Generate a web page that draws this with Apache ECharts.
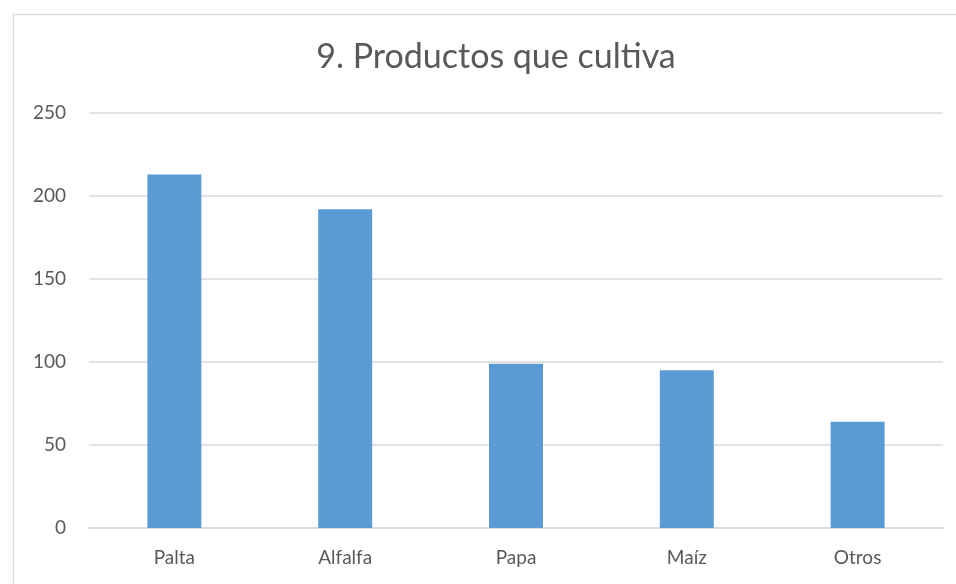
<!DOCTYPE html>
<html>
<head>
<meta charset="utf-8">
<script src="https://cdn.jsdelivr.net/npm/echarts@6/dist/echarts.min.js"></script>
<style>
html,body{margin:0;padding:0;background:#fff;}
#chart{width:956px;height:584px;}
</style>
</head>
<body>
<div id="chart"></div>
<script>
// ========== 数据 ==========
const categories = ['Palta', 'Alfalfa', 'Papa', 'Maíz', 'Otros'];
const values = [213, 192, 99, 95, 64];
const titleText = '9. Productos que cultiva';

const chart = echarts.init(document.getElementById('chart'));
const fontFam = 'Lato, "Open Sans", sans-serif';

chart.setOption({
    backgroundColor: '#fff',
    animation: false,
    title: {
        text: titleText,
        left: 491, top: 35, textAlign: 'center',
        textStyle: { fontFamily: fontFam, fontSize: 34, fontWeight: 'normal', color: '#595959' }
    },
    graphic: [{
        type: 'rect',
        shape: { x: 13.5, y: 14.5, width: 1000, height: 700 },
        style: { fill: 'none', stroke: '#d9d9d9', lineWidth: 1.5 },
        silent: true
    }],
    grid: { left: 89, right: 13, top: 113, bottom: 56 },
    xAxis: {
        type: 'category',
        data: categories,
        axisLine: { show: true, lineStyle: { color: '#d9d9d9', width: 1.5 } },
        axisTick: { show: false },
        axisLabel: { color: '#595959', fontSize: 19, fontFamily: fontFam, margin: 20 }
    },
    yAxis: {
        type: 'value',
        min: 0, max: 250, interval: 50,
        axisLine: { show: false },
        axisTick: { show: false },
        splitLine: { lineStyle: { color: '#d9d9d9', width: 1.5 } },
        axisLabel: { color: '#595959', fontSize: 19, fontFamily: fontFam, margin: 23 }
    },
    series: [{
        type: 'bar',
        data: values,
        barWidth: '31.6%',
        itemStyle: { color: '#5b9bd5' }
    }]
});
</script>
</body>
</html>
